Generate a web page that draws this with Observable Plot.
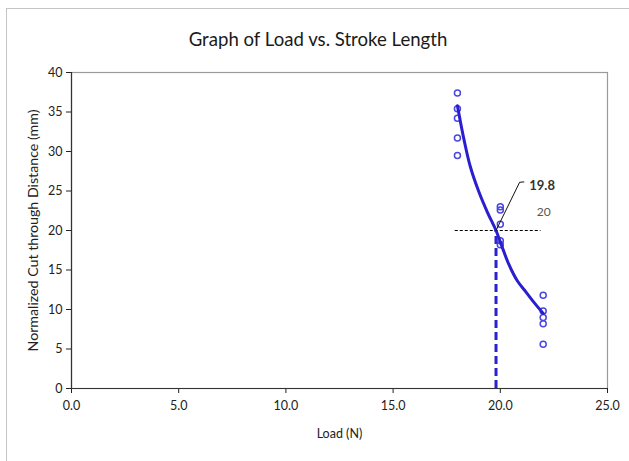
<!DOCTYPE html>
<html>
<head>
<meta charset="utf-8">
<script src="https://cdn.jsdelivr.net/npm/d3@7"></script>
<script src="https://cdn.jsdelivr.net/npm/@observablehq/plot@0.6"></script>
<style>
  html, body { margin: 0; padding: 0; background: #fff; }
  #wrap { position: relative; width: 629px; height: 461px; overflow: hidden; background: #fff; }
  #frame { position: absolute; left: 6px; top: 8px; width: 700px; height: 500px; border-left: 1.5px solid #c4c4c4; border-top: 1.5px solid #c4c4c4; }
  #title { position: absolute; left: 0; top: 0; width: 636px; height: 58px; text-align: center; line-height: 78px;
           font-family: Lato, "Open Sans", sans-serif; font-size: 18.6px; color: #1a1a1a; }
  #chart { position: absolute; left: 0; top: 58px; }
  svg text { font-family: Lato, "Open Sans", sans-serif; }
</style>
</head>
<body>
<div id="wrap">
  <div id="frame"></div>
  <div id="title">Graph of Load vs. Stroke Length</div>
  <div id="chart"></div>
</div>
<script>
// Measured data (Load in N, normalized cut-through distance in mm)
const loads = [18, 18, 18, 18, 18, 20, 20, 20, 20, 20, 22, 22, 22, 22, 22];
const distances = [37.4, 35.4, 34.2, 31.7, 29.5, 23.0, 22.6, 20.8, 18.7, 18.2, 11.8, 9.8, 9.0, 8.2, 5.6];

// Fitted trend line
const fitLoads = [18, 18.3, 18.6, 19.0, 19.4, 19.8, 20.1, 20.4, 20.8, 21.2, 21.6, 22];
const fitDistances = [35.8, 31.6, 28.1, 24.9, 22.3, 20.0, 17.8, 15.7, 13.6, 12.2, 10.8, 9.5];

// Target reference
const targetDistance = 20;
const targetLoad = 19.8;
const targetLineRange = [17.9, 21.9];

// Annotation positions (data units)
const leaderX = [19.8, 20.9, 21.1];
const leaderY = [20, 26.1, 26.15];
const labelLoad = { x: 21.35, y: 25.6, text: "19.8" };
const labelTarget = { x: 21.7, y: 22.3, text: "20" };

// Axis ticks
const xTicks = [0, 5, 10, 15, 20, 25];
const yTicks = [0, 5, 10, 15, 20, 25, 30, 35, 40];

const points = loads.map((x, i) => ({ x, y: distances[i] }));
const fit = fitLoads.map((x, i) => ({ x, y: fitDistances[i] }));
const leader = leaderX.map((x, i) => ({ x, y: leaderY[i] }));

const plot = Plot.plot({
  width: 629,
  height: 403,
  marginLeft: 71,
  marginRight: 22,
  marginTop: 14,
  marginBottom: 73,
  style: { background: "transparent", fontSize: "12px", color: "#222" },
  x: { domain: [0, 25], ticks: xTicks, tickFormat: d => d.toFixed(1), label: null },
  y: { domain: [0, 40], ticks: yTicks, label: null },
  marks: [
    Plot.frame({ stroke: "#9a9a9a", strokeWidth: 1.2 }),
    Plot.axisX({ ticks: xTicks, tickFormat: d => d.toFixed(1), tickSize: 5, tickPadding: 8, label: null, fontSize: 12.5, stroke: "#222" }),
    Plot.axisY({ ticks: yTicks, tickSize: 5, tickPadding: 4, label: null, fontSize: 12.5, stroke: "#222" }),
    Plot.ruleY([0], { stroke: "#333", strokeWidth: 1.2 }),
    Plot.ruleX([0], { stroke: "#333", strokeWidth: 1.2 }),
    Plot.text(["Load (N)"], { frameAnchor: "bottom", dy: 49, fontSize: 12.5, fill: "#222" }),
    Plot.text(["Normalized Cut through Distance (mm)"], { frameAnchor: "left", textAnchor: "middle", dx: -38, rotate: -90, fontSize: 14.2, fill: "#222" }),
    // target horizontal dashed line
    Plot.ruleY([targetDistance], { x1: targetLineRange[0], x2: targetLineRange[1], stroke: "#000", strokeWidth: 1, strokeDasharray: "3,2" }),
    // vertical dashed line at intersection load
    Plot.ruleX([targetLoad], { y1: 0, y2: targetDistance, stroke: "#2a22d0", strokeWidth: 3, strokeDasharray: "8,4" }),
    // data points
    Plot.dot(points, { x: "x", y: "y", r: 3, stroke: "#4b46e0", strokeWidth: 1.5, fill: "none" }),
    // fit curve
    Plot.line(fit, { x: "x", y: "y", curve: "catmull-rom", stroke: "#2a1fcf", strokeWidth: 3 }),
    // annotation leader line
    Plot.line(leader, { x: "x", y: "y", stroke: "#111", strokeWidth: 1 }),
    Plot.text([labelLoad], { x: "x", y: "y", text: "text", textAnchor: "start", fontWeight: "bold", fontSize: 13, fill: "#333" }),
    Plot.text([labelTarget], { x: "x", y: "y", text: "text", textAnchor: "start", fontSize: 12, fill: "#555" })
  ]
});
document.getElementById("chart").appendChild(plot);
</script>
</body>
</html>
